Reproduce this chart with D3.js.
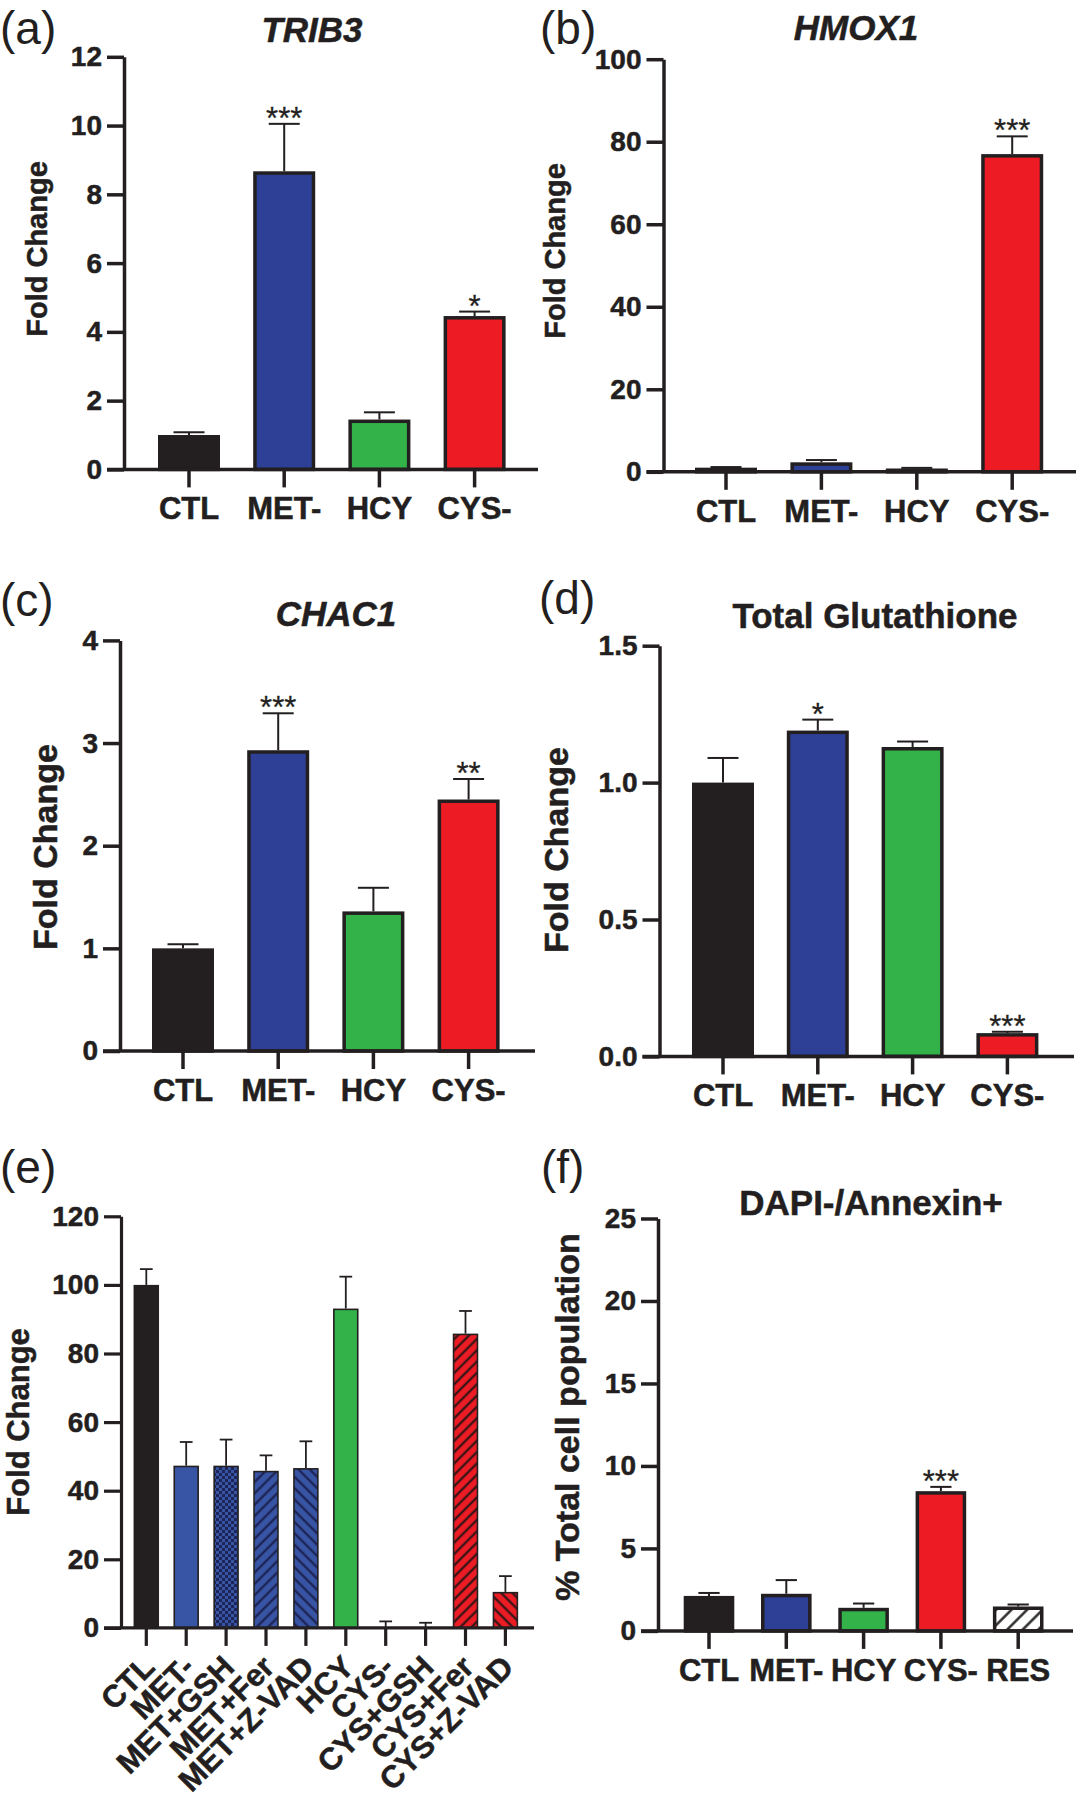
<!DOCTYPE html>
<html><head><meta charset="utf-8">
<script src="https://cdn.jsdelivr.net/npm/d3@7"></script>
<style>
body{margin:0;background:#fff}
svg{display:block}
text{font-family:"Liberation Sans", Arial, Helvetica, sans-serif}
</style>
</head><body>
<svg id="c" width="1078" height="1800"></svg>
<script>
// ---------------- data ----------------
const catsABCD = ["CTL", "MET-", "HCY", "CYS-"];

const trib3Mean = [1.0, 8.67, 1.45, 4.46];
const trib3Err  = [0.08, 1.38, 0.21, 0.13];
const trib3Sig  = ["", "***", "", "*"];
const trib3Ticks = [0, 2, 4, 6, 8, 10, 12];

const hmox1Mean = [1.0, 2.3, 0.8, 77.0];
const hmox1Err  = [0.15, 0.55, 0.15, 4.3];
const hmox1Sig  = ["", "", "", "***"];
const hmox1Ticks = [0, 20, 40, 60, 80, 100];

const chac1Mean = [1.0, 2.93, 1.36, 2.45];
const chac1Err  = [0.04, 0.36, 0.23, 0.2];
const chac1Sig  = ["", "***", "", "**"];
const chac1Ticks = [0, 1, 2, 3, 4];

const gshMean = [1.0, 1.19, 1.13, 0.085];
const gshErr  = [0.09, 0.04, 0.02, 0.005];
const gshSig  = ["", "*", "", "***"];
const gshTicks = [0, 0.5, 1.0, 1.5];

const catsE = ["CTL", "MET-", "MET+GSH", "MET+Fer", "MET+Z-VAD", "HCY", "CYS-", "CYS+GSH", "CYS+Fer", "CYS+Z-VAD"];
const eMean = [100, 47.3, 47.3, 45.8, 46.6, 93.1, 0, 0, 85.8, 10.5];
const eErr  = [4.6, 6.9, 7.6, 4.5, 7.8, 9.3, 1.9, 1.5, 6.6, 4.6];
const eSig  = ["", "", "", "", "", "", "", "", "", ""];
const eTicks = [0, 20, 40, 60, 80, 100, 120];

const catsF = ["CTL", "MET-", "HCY", "CYS-", "RES"];
const fMean = [2.12, 2.25, 1.4, 8.47, 1.48];
const fErr  = [0.18, 0.83, 0.26, 0.26, 0.12];
const fSig  = ["", "", "", "***", ""];
const fTicks = [0, 5, 10, 15, 20, 25];

// ---------------- style ----------------
const INK = "#231f20";
const BLACK = "#231f20", BLUE = "#2e4096", BLUE_E = "#3854a4", GREEN = "#33b24a", RED = "#ed1c24";
const FONT = '"Liberation Sans", Arial, Helvetica, sans-serif';

const svg = d3.select("#c");
const defs = svg.append("defs");

function hatch(id, base, line, angle, size, lw) {
  const p = defs.append("pattern").attr("id", id)
    .attr("patternUnits", "userSpaceOnUse")
    .attr("width", size).attr("height", size)
    .attr("patternTransform", `rotate(${angle})`);
  p.append("rect").attr("width", size).attr("height", size).attr("fill", base);
  p.append("line").attr("x1", size / 2).attr("y1", 0).attr("x2", size / 2).attr("y2", size)
    .attr("stroke", line).attr("stroke-width", lw);
}
function checker(id, base, dark, s) {
  const p = defs.append("pattern").attr("id", id)
    .attr("patternUnits", "userSpaceOnUse").attr("width", 2 * s).attr("height", 2 * s);
  p.append("rect").attr("width", 2 * s).attr("height", 2 * s).attr("fill", base);
  p.append("rect").attr("width", s).attr("height", s).attr("fill", dark);
  p.append("rect").attr("x", s).attr("y", s).attr("width", s).attr("height", s).attr("fill", dark);
}
checker("blueCheck", BLUE_E, "#1c2556", 3);
hatch("blueFwd", BLUE_E, "#1c2556", 45, 8, 2.4);
hatch("blueBack", BLUE_E, "#1c2556", -45, 8, 2.4);
hatch("redFwd", RED, "#3a1416", 45, 8, 2.4);
hatch("redBack", RED, "#3a1416", -45, 8, 2.4);
hatch("whiteFwd", "#ffffff", INK, 45, 11, 2.4);

const fillsABCD = [BLACK, BLUE, GREEN, RED];
const fillsE = [BLACK, BLUE_E, "url(#blueCheck)", "url(#blueFwd)", "url(#blueBack)", GREEN, RED, RED, "url(#redFwd)", "url(#redBack)"];
const fillsF = [BLACK, BLUE, GREEN, RED, "url(#whiteFwd)"];

function boldify(sel) {
  return sel.attr("font-weight", "bold").attr("fill", INK)
    .attr("stroke", INK).attr("stroke-width", 0.5).style("font-family", FONT);
}

function panel(c) {
  const g = svg.append("g");
  const n = c.cats.length;
  const pI = 1 - c.bw / c.step;
  const x = d3.scaleBand().domain(c.cats)
    .range([c.c0 - c.step / 2, c.c0 - c.step / 2 + n * c.step])
    .paddingInner(pI).paddingOuter(pI / 2);
  const y = d3.scaleLinear().domain([0, c.ymax]).range([c.zero, c.top]);
  const data = c.cats.map((k, i) => ({ k, m: c.mean[i], e: c.err[i], s: c.sig[i], f: c.fills[i] }));

  // bars
  const sw = c.barStroke;
  g.selectAll("rect.bar").data(data.filter(d => d.m > 0)).join("rect")
    .attr("class", "bar")
    .attr("x", d => x(d.k) + sw / 2)
    .attr("width", x.bandwidth() - sw)
    .attr("y", d => y(d.m) + sw / 2)
    .attr("height", d => Math.max(0, y(0) - y(d.m) - sw / 2))
    .attr("fill", d => d.f)
    .attr("stroke", INK).attr("stroke-width", sw);

  // error bars
  const cw = x.bandwidth() * c.capFrac;
  const eb = g.selectAll("g.err").data(data).join("g").attr("class", "err");
  eb.append("line")
    .attr("x1", d => x(d.k) + x.bandwidth() / 2).attr("x2", d => x(d.k) + x.bandwidth() / 2)
    .attr("y1", d => y(d.m)).attr("y2", d => y(d.m + d.e))
    .attr("stroke", INK).attr("stroke-width", c.errW);
  eb.append("line")
    .attr("x1", d => x(d.k) + x.bandwidth() / 2 - cw / 2).attr("x2", d => x(d.k) + x.bandwidth() / 2 + cw / 2)
    .attr("y1", d => y(d.m + d.e)).attr("y2", d => y(d.m + d.e))
    .attr("stroke", INK).attr("stroke-width", c.errW);

  // significance stars
  g.selectAll("text.sig").data(data.filter(d => d.s)).join("text")
    .attr("class", "sig")
    .attr("x", d => x(d.k) + x.bandwidth() / 2)
    .attr("y", d => y(d.m + d.e) + 5)
    .attr("text-anchor", "middle")
    .attr("font-size", 31).attr("fill", INK)
    .attr("stroke", INK).attr("stroke-width", 0.3)
    .text(d => d.s);

  // y axis
  const ya = g.append("g").attr("transform", `translate(${c.axisX},0)`)
    .call(d3.axisLeft(y).tickValues(c.ticks).tickSize(17).tickSizeOuter(0).tickPadding(5).tickFormat(c.fmt));
  ya.select(".domain").attr("stroke", INK).attr("stroke-width", c.axisW);
  ya.selectAll(".tick line").attr("stroke", INK).attr("stroke-width", c.axisW);
  boldify(ya.selectAll(".tick text").attr("font-size", c.tickFs));

  // x axis
  const xa = g.append("g").attr("transform", `translate(0,${c.zero})`)
    .call(d3.axisBottom(x).tickSize(18).tickSizeOuter(0));
  xa.select(".domain").remove();
  xa.append("line").attr("x1", c.axisX - 17).attr("x2", c.axisEnd).attr("y1", 0).attr("y2", 0)
    .attr("stroke", INK).attr("stroke-width", c.axisW);
  xa.selectAll(".tick line").attr("stroke", INK).attr("stroke-width", c.axisW);
  const xt = boldify(xa.selectAll(".tick text").attr("font-size", c.catFs));
  if (c.rotate) {
    xt.attr("y", 0).attr("dy", 0).attr("text-anchor", "end")
      .attr("transform", `translate(10,41) rotate(-45)`);
  } else {
    xt.attr("y", c.catY).attr("dy", 0);
  }

  // title
  if (c.title) {
    boldify(g.append("text").attr("x", c.titleX).attr("y", c.titleY).attr("text-anchor", "middle")
      .attr("font-size", 35)
      .attr("font-style", c.italic ? "italic" : "normal")).text(c.title);
  }
  // y label
  boldify(g.append("text").attr("transform", `translate(${c.ylabX},${c.ylabY}) rotate(-90)`)
    .attr("text-anchor", "middle").attr("font-size", c.ylabFs)).text(c.ylab);
  // panel letter
  g.append("text").attr("x", c.labX).attr("y", c.labY).attr("font-size", 46)
    .attr("fill", INK).text(c.label);
}

const common = { barStroke: 3.5, errW: 2, axisW: 3.5, capFrac: 0.5, tickFs: 28, catFs: 31, catY: 50, ylabFs: 33, fmt: d3.format("d") };

panel(Object.assign({}, common, {
  cats: catsABCD, mean: trib3Mean, err: trib3Err, sig: trib3Sig, fills: fillsABCD,
  ymax: 12, ticks: trib3Ticks, axisX: 124, c0: 189, step: 95.2, bw: 62, zero: 469.4, top: 56.8, axisEnd: 538,
  title: "TRIB3", italic: true, titleX: 312, titleY: 42, ylab: "Fold Change", ylabFs: 29, ylabX: 47, ylabY: 249,
  label: "(a)", labX: 0, labY: 44
}));
panel(Object.assign({}, common, {
  cats: catsABCD, mean: hmox1Mean, err: hmox1Err, sig: hmox1Sig, fills: fillsABCD,
  ymax: 100, ticks: hmox1Ticks, axisX: 663.5, c0: 726, step: 95.4, bw: 62, zero: 471.8, top: 59.2, axisEnd: 1076,
  title: "HMOX1", italic: true, titleX: 856, titleY: 40, ylab: "Fold Change", ylabFs: 29, ylabX: 565, ylabY: 251,
  label: "(b)", labX: 540, labY: 44
}));
panel(Object.assign({}, common, {
  cats: catsABCD, mean: chac1Mean, err: chac1Err, sig: chac1Sig, fills: fillsABCD,
  ymax: 4, ticks: chac1Ticks, axisX: 120, c0: 183, step: 95.2, bw: 62, zero: 1051, top: 640.4, axisEnd: 535,
  title: "CHAC1", italic: true, titleX: 336, titleY: 626, ylab: "Fold Change", ylabFs: 34, ylabX: 57, ylabY: 847,
  label: "(c)", labX: 0, labY: 616
}));
panel(Object.assign({}, common, {
  cats: catsABCD, mean: gshMean, err: gshErr, sig: gshSig, fills: fillsABCD,
  ymax: 1.5, ticks: gshTicks, fmt: d3.format(".1f"), axisX: 659.5, c0: 723, step: 94.8, bw: 62, zero: 1056.4, top: 645.7, axisEnd: 1074,
  title: "Total Glutathione", italic: false, titleX: 875, titleY: 628, ylab: "Fold Change", ylabFs: 34, ylabX: 568, ylabY: 850,
  label: "(d)", labX: 539, labY: 614
}));
panel(Object.assign({}, common, {
  cats: catsE, mean: eMean, err: eErr, sig: eSig, fills: fillsE, barStroke: 1.6, errW: 1.8, axisW: 3.2, catFs: 31,
  ymax: 120, ticks: eTicks, axisX: 121, c0: 146.3, step: 39.9, bw: 25.5, zero: 1627.9, top: 1216.3, axisEnd: 534,
  rotate: true, title: null, ylab: "Fold Change", ylabFs: 31, ylabX: 29, ylabY: 1422,
  label: "(e)", labX: 0, labY: 1183
}));
panel(Object.assign({}, common, {
  cats: catsF, mean: fMean, err: fErr, sig: fSig, fills: fillsF, capFrac: 0.42,
  ymax: 25, ticks: fTicks, axisX: 658, c0: 709, step: 77.3, bw: 50.6, zero: 1630.9, top: 1218.5, axisEnd: 1073,
  title: "DAPI-/Annexin+", italic: false, titleX: 871, titleY: 1215, ylab: "% Total cell population", ylabFs: 34, ylabX: 579, ylabY: 1417,
  label: "(f)", labX: 541, labY: 1183
}));
</script>
</body></html>
